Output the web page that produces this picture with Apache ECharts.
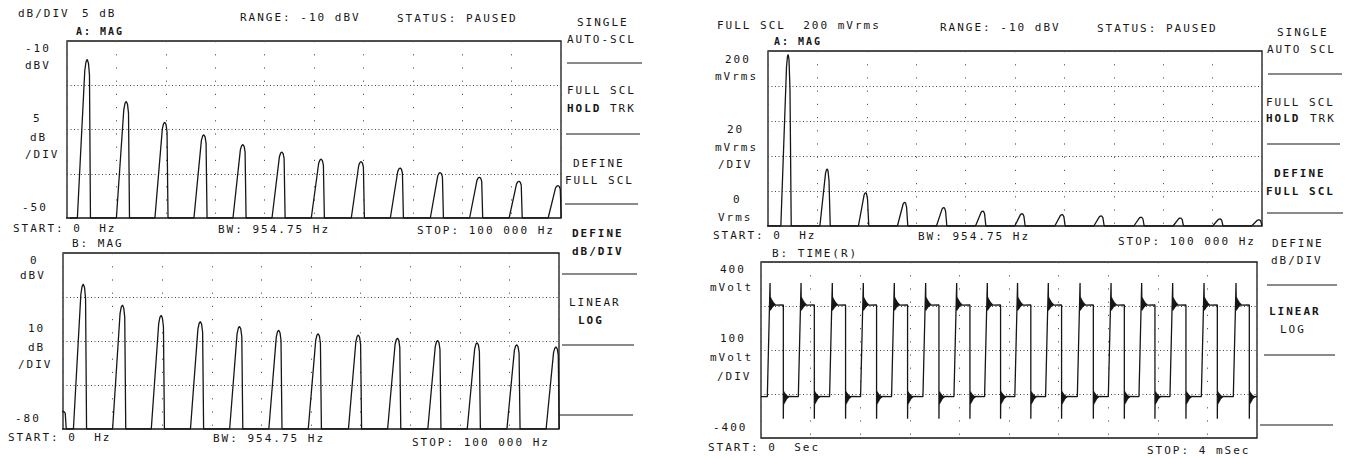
<!DOCTYPE html>
<html><head><meta charset="utf-8">
<script src="https://cdn.jsdelivr.net/npm/echarts@6/dist/echarts.min.js"></script>
<style>
html,body{margin:0;padding:0;background:#fff;}
#main{width:1345px;height:459px;}
#main text{letter-spacing:2px;}
</style></head><body><div id="main"></div>
<script>
// ---------------- DATA ----------------
// Spectrum: DC + odd harmonics of a ~3.98 kHz square wave
const harmonicFreqHz   = [0, 4100, 12000, 19800, 27700, 35600, 43500, 51450, 59550, 67450, 75550, 83500, 91500, 99400];
const harmonicLevelDbV = [-72, -14.15, -23.65, -28.35, -31.2, -33.4, -35.1, -36.7, -37.25, -38.7, -39.75, -40.8, -41.7, -42.7];
const harmonicLevelMVrms = [0.25, 196, 65, 38, 27, 21, 17, 14, 13, 11.5, 10, 9, 8, 7];
// flat-top lobe as drawn by the plotter (offset from peak, fraction of height above floor)
const lobeOffsetHz = [-2000, -500, -250, 0, 250, 450, 650];
const lobeFraction = [0, 0.93, 0.985, 1, 0.975, 0.9, 0];
const linLobeOffsetHz = [-1500, -350, -150, 0, 150, 350, 600];
const linLobeFraction = [0, 0.93, 0.99, 1, 0.97, 0.8, 0];
// Time record (ms / mVolt)
const riseStartMs = [0.051, 0.301, 0.553, 0.803, 1.053, 1.306, 1.556, 1.803, 2.047, 2.295, 2.551, 2.801, 3.048, 3.298, 3.551, 3.809];
const risePeakMs  = [0.073, 0.323, 0.575, 0.825, 1.075, 1.328, 1.578, 1.825, 2.069, 2.317, 2.573, 2.823, 3.070, 3.320, 3.573, 3.831];
const fallMs      = [0.180, 0.430, 0.682, 0.932, 1.182, 1.435, 1.685, 1.932, 2.176, 2.424, 2.680, 2.930, 3.177, 3.427, 3.680, 3.938];
const highLevelMv = 205;
const lowLevelMv = -212;
const ringOffsetMv = [100, -25, 35, -22, 30, -18, 26, -15, 22, -12, 18, -9, 14, -7, 11, -5, 8, -3, 6, -2, 4, -1, 2, 0];
const ringStepMs = 0.002;
// Tick labels
const yTicksLeftA  = ['-10', 'dBV', '5', 'dB', '/DIV', '-50'];
const yTicksLeftB  = ['0', 'dBV', '10', 'dB', '/DIV', '-80'];
const yTicksRightA = ['200', 'mVrms', '20', 'mVrms', '/DIV', '0', 'Vrms'];
const yTicksRightB = ['400', 'mVolt', '100', 'mVolt', '/DIV', '-400'];
const freqFooter = ['START: 0  Hz', 'BW: 954.75 Hz', 'STOP: 100 000 Hz'];
const timeFooter = ['START: 0  Sec', 'STOP: 4 mSec'];
const headerLeft = ['dB/DIV', '5 dB', 'RANGE: -10 dBV', 'STATUS: PAUSED'];
const headerRight = ['FULL SCL  200 mVrms', 'RANGE: -10 dBV', 'STATUS: PAUSED'];
const traceNames = ['A: MAG', 'B: MAG', 'A: MAG', 'B: TIME(R)'];
const softkeysLeft = ['SINGLE', 'AUTO-SCL', 'FULL SCL', 'HOLD', 'TRK', 'DEFINE', 'FULL SCL', 'DEFINE', 'dB/DIV', 'LINEAR', 'LOG'];
const softkeysRight = ['SINGLE', 'AUTO SCL', 'FULL SCL', 'HOLD', 'TRK', 'DEFINE', 'FULL SCL', 'DEFINE', 'dB/DIV', 'LINEAR', 'LOG'];

// ---------------- build series ----------------
function spectrum(levels, floor, offs, fracs) {
  const pts = [[0, floor]];
  for (let i = 0; i < harmonicFreqHz.length; i++) {
    for (let j = 0; j < offs.length; j++) {
      pts.push([harmonicFreqHz[i] + offs[j], floor + fracs[j] * (levels[i] - floor)]);
    }
  }
  pts.push([100000, floor]);
  return pts;
}
function timeTrace() {
  const pts = [[0, lowLevelMv]];
  for (let i = 0; i < risePeakMs.length; i++) {
    pts.push([riseStartMs[i], lowLevelMv]);
    for (let j = 0; j < ringOffsetMv.length; j++) pts.push([risePeakMs[i] + j * ringStepMs, highLevelMv + ringOffsetMv[j]]);
    pts.push([fallMs[i], highLevelMv]);
    for (let j = 0; j < ringOffsetMv.length; j++) pts.push([fallMs[i] + j * ringStepMs, lowLevelMv - ringOffsetMv[j]]);
  }
  pts.push([4, lowLevelMv]);
  return pts;
}

// ---------------- layout ----------------
const INK = '#161616';
const FONT = '"DejaVu Sans Mono", monospace';
const G = [];
function put(s, x, y, bold, size) {
  G.push({type: 'text', x: x, y: y, silent: true,
    style: {text: s, fill: INK, font: (bold ? 'bold ' : '') + (size || 11) + 'px ' + FONT,
      align: 'left', verticalAlign: 'middle', textAlign: 'left', textVerticalAlign: 'middle'}});
}
function rule(x1, y1, x2, y2) {
  G.push({type: 'line', silent: true, shape: {x1, y1, x2, y2}, style: {stroke: INK, lineWidth: 1.2}});
}
// left instrument header
put(headerLeft[0], 18, 13); put(headerLeft[1], 82, 13); put(headerLeft[2], 240, 17); put(headerLeft[3], 397, 18);
put(traceNames[0], 76, 31, true, 10);
[[25,48],[25,65],[33,118],[30,137],[25,154],[22,207]].forEach((p, i) => put(yTicksLeftA[i], p[0], p[1]));
put(freqFooter[0], 13, 228); put(freqFooter[1], 218, 229); put(freqFooter[2], 417, 230);
put(traceNames[1], 72, 243);
[[30,260],[20,275],[28,328],[28,347],[18,364],[15,418]].forEach((p, i) => put(yTicksLeftB[i], p[0], p[1]));
put(freqFooter[0], 8, 437); put(freqFooter[1], 213, 438); put(freqFooter[2], 412, 442);
// left softkeys
const skL = [[577,22,0],[567,39,0],[567,90,0],[567,108,1],[610,108,0],[573,163,0],[565,180,0],[572,233,1],[572,251,1],[569,302,0],[578,320,1]];
skL.forEach((p, i) => put(softkeysLeft[i], p[0], p[1], !!p[2]));
[[567,63,642],[566,134,640],[565,204,638],[562,274,637],[562,345,634],[559,415,633]].forEach(r => rule(r[0], r[1], r[2], r[1]));
// right instrument header
put(headerRight[0], 717, 25); put(headerRight[1], 940, 27); put(headerRight[2], 1097, 28);
put(traceNames[2], 774, 41, true, 10);
[[725,59],[715,76],[727,129],[715,147],[718,164],[733,199],[718,217]].forEach((p, i) => put(yTicksRightA[i], p[0], p[1]));
put(freqFooter[0], 713, 235); put(freqFooter[1], 918, 236); put(freqFooter[2], 1118, 241);
put(traceNames[3], 772, 253);
[[720,269],[710,287],[720,338],[710,357],[717,376],[713,427]].forEach((p, i) => put(yTicksRightB[i], p[0], p[1]));
put(timeFooter[0], 708, 447); put(timeFooter[1], 1147, 450);
const skR = [[1277,32,0],[1267,49,0],[1266,102,0],[1266,118,1],[1310,118,0],[1274,173,1],[1266,191,1],[1272,243,0],[1271,260,0],[1269,311,1],[1280,329,0]];
skR.forEach((p, i) => put(softkeysRight[i], p[0], p[1], !!p[2]));
[[1268,74,1342],[1267,144,1340],[1267,213,1343],[1267,285,1337],[1264,355,1335],[1260,425,1333]].forEach(r => rule(r[0], r[1], r[2], r[1]));

// ---------------- chart ----------------
const gridStyle = {show: true, borderColor: INK, borderWidth: 1.3, backgroundColor: 'transparent'};
const hDots = {show: true, lineStyle: {color: '#444', width: 1, type: [1, 2.5]}};
const vDots = {show: true, lineStyle: {color: '#555', width: 1, type: [1.2, 12]}};
function xAx(i, max, interval) {
  return {type: 'value', gridIndex: i, min: 0, max: max, interval: interval,
    axisLine: {show: false}, axisTick: {show: false}, axisLabel: {show: false}, splitLine: vDots};
}
function yAx(i, min, max, interval) {
  return {type: 'value', gridIndex: i, min: min, max: max, interval: interval,
    axisLine: {show: false}, axisTick: {show: false}, axisLabel: {show: false}, splitLine: hDots};
}
const lineSt = {color: INK, width: 1.3};
function ser(i, data) {
  return {type: 'line', xAxisIndex: i, yAxisIndex: i, data: data, showSymbol: false, symbol: 'none',
    lineStyle: lineSt, silent: true, clip: true, animation: false};
}
const chart = echarts.init(document.getElementById('main'), null, {renderer: 'svg'});
chart.setOption({
  backgroundColor: '#fff',
  animation: false,
  grid: [
    Object.assign({left: 67, top: 41, width: 494, height: 177}, gridStyle),
    Object.assign({left: 63, top: 253, width: 496, height: 176}, gridStyle),
    Object.assign({left: 768, top: 51, width: 494, height: 175}, gridStyle),
    Object.assign({left: 761, top: 262, width: 496, height: 176}, gridStyle)
  ],
  xAxis: [xAx(0, 100000, 10000), xAx(1, 100000, 10000), xAx(2, 100000, 10000), xAx(3, 4, 0.4)],
  yAxis: [yAx(0, -50, -10, 10), yAx(1, -80, 0, 20), yAx(2, 0, 200, 40), yAx(3, -400, 400, 200)],
  series: [
    ser(0, spectrum(harmonicLevelDbV, -50, lobeOffsetHz, lobeFraction)),
    ser(1, spectrum(harmonicLevelDbV, -80, lobeOffsetHz, lobeFraction)),
    ser(2, spectrum(harmonicLevelMVrms, 0, linLobeOffsetHz, linLobeFraction)),
    ser(3, timeTrace())
  ],
  graphic: G
});
</script></body></html>
